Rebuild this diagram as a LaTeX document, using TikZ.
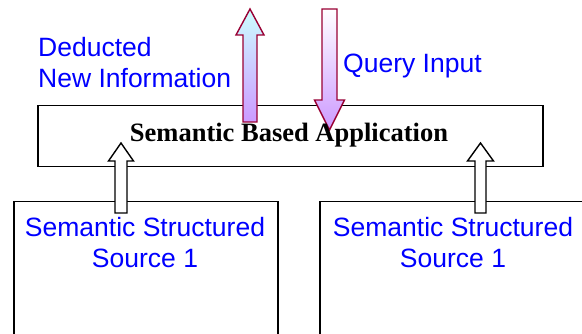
\documentclass[tikz,border=0pt]{standalone}
\usepackage{fontspec}
\setmainfont{Liberation Serif}
\newfontfamily\arialfont{Liberation Sans}
\definecolor{arrowrim}{HTML}{990033}
\definecolor{lilac}{HTML}{CC99FF}
\definecolor{paleaqua}{HTML}{CCFFFF}
\definecolor{labelblue}{HTML}{0000FF}
\tikzset{
  panel/.style={draw=black, line width=1.5pt, fill=white, rectangle, inner sep=0pt},
  bluetext/.style={text=labelblue, font=\arialfont\fontsize{26.5}{31}\selectfont, inner sep=0pt},
  apptext/.style={text=black, font=\bfseries\fontsize{26.5}{31}\selectfont, inner sep=0pt},
  hollowarrow/.style={draw=black, line width=1.4pt, fill=white, line join=miter},
  flowarrow/.style={draw=arrowrim, line width=1.4pt, line join=miter}
}
% block arrow: centre x, tail y, tip y, shaft width, head width, head length
\newcommand{\blockarrowpath}[6]{%
  (#1-#4/2,#2) -- (#1-#4/2,#3+#6) -- (#1-#5/2,#3+#6) -- (#1,#3) --
  (#1+#5/2,#3+#6) -- (#1+#4/2,#3+#6) -- (#1+#4/2,#2) -- cycle}
\newcommand{\blockarrowdown}[6]{%
  (#1-#4/2,#2) -- (#1-#4/2,#3-#6) -- (#1-#5/2,#3-#6) -- (#1,#3) --
  (#1+#5/2,#3-#6) -- (#1+#4/2,#3-#6) -- (#1+#4/2,#2) -- cycle}
\begin{document}
\begin{tikzpicture}[x=1pt,y=-1pt]
\useasboundingbox (0,0) rectangle (582,334);

% source boxes (running past the lower edge)
\node[panel, minimum width=264pt, minimum height=144pt, anchor=north west] (srcA) at (13,201) {};
\node[panel, minimum width=268pt, minimum height=144pt, anchor=north west] (srcB) at (319,201) {};
\node[bluetext, align=center, anchor=base] (srcAtext) at (145,268) {Semantic Structured\\Source 1};
\node[bluetext, align=center, anchor=base] (srcBtext) at (453,268) {Semantic Structured\\Source 1};

% application box
\node[panel, minimum width=505pt, minimum height=61pt, anchor=north west] (app) at (37,105) {};

% hollow arrows from the sources into the application
\path[hollowarrow] \blockarrowpath{121}{213}{143}{12}{25}{18};
\path[hollowarrow] \blockarrowpath{480.5}{213}{143}{11}{26}{18};

% output arrow (up) and query arrow (down)
\shade[flowarrow, top color=paleaqua, bottom color=lilac] \blockarrowpath{250}{122}{9}{14}{28}{26};
\shade[flowarrow, top color=white, bottom color=lilac] \blockarrowdown{329.5}{9}{130}{15}{30}{30};

\node[apptext, anchor=base] (apptitle) at (289,141.5) {Semantic Based Application};

% labels of the two flows
\node[bluetext, align=left, anchor=base west] (deduced) at (38,88) {Deducted\\New Information};
\node[bluetext, anchor=base west] (query) at (343,73) {Query Input};
\end{tikzpicture}
\end{document}
